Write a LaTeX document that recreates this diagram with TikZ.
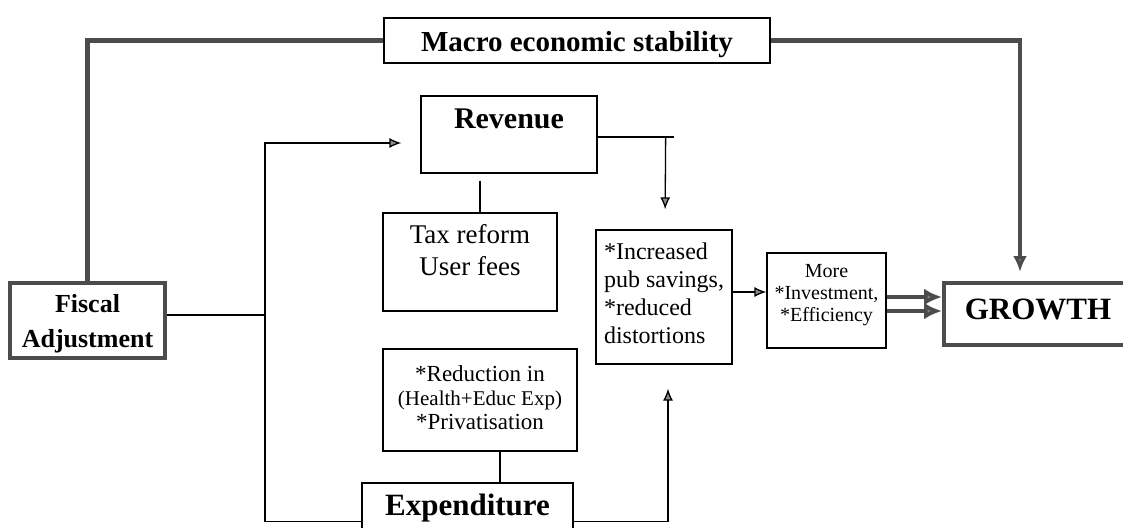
\documentclass[tikz,border=0pt]{standalone}
\usepackage{fontspec}
\setmainfont{Liberation Serif}
\usetikzlibrary{arrows.meta}

\begin{document}
\begin{tikzpicture}[x=1pt,y=-1pt,
    box/.style={draw,line width=1.3pt,inner sep=0pt,align=center},
    heavybox/.style={draw=black!70,line width=4pt,inner sep=0pt,align=center},
    link/.style={line width=1.3pt},
    arr/.style={link,-{Latex[length=12pt,width=10pt,fill=black!45]}},
    bar/.style={draw=black!70,line width=4.5pt},
    fat/.style={draw=black!70,line width=4pt,-{Latex[length=18pt,width=17pt,fill=black!50]}}
]
    \useasboundingbox (0,0) rectangle (1123,527);

    \node[box,minimum width=386pt,text height=34pt,text depth=11pt,
        font=\fontsize{29}{34}\selectfont\bfseries] (macro) at (577,40.5) {Macro economic stability};
    \node[heavybox,minimum width=155pt,text height=64pt,text depth=11pt,
        font=\fontsize{26}{35}\selectfont\bfseries] (fis) at (87.5,320.5) {Fiscal\\Adjustment};
    \node[box,minimum width=176pt,text height=32pt,text depth=45pt,
        font=\fontsize{30}{34}\selectfont\bfseries] (rev) at (509,134.5) {Revenue};
    \node[box,minimum width=174pt,text height=62pt,text depth=36pt,
        font=\fontsize{27}{32}\selectfont] (tax) at (470,262) {Tax reform\\User fees};
    \node[box,minimum width=194pt,text height=80pt,text depth=22pt,
        font=\fontsize{23}{24}\selectfont] (red) at (480,400)
        {*Reduction in\\{\fontsize{21}{24}\selectfont(Health+Educ Exp)}\\{}*Privatisation};
    \node[box,minimum width=211pt,text height=32pt,text depth=45pt,
        font=\fontsize{31}{34}\selectfont\bfseries] (exp) at (467.5,521.5) {Expenditure};
    \node[box,minimum width=136pt,align=left,text height=113pt,text depth=21pt,
        font=\fontsize{24}{28}\selectfont] (sav) at (664,297)
        {*Increased\\pub savings,\\{}*reduced\\distortions};
    \node[box,minimum width=119pt,text height=68pt,text depth=27pt,
        font=\fontsize{20}{22}\selectfont] (more) at (826.5,300.5) {More\\{}*Investment,\\{}*Efficiency};
    \node[heavybox,minimum width=188pt,text height=36pt,text depth=26pt,
        font=\fontsize{31}{34}\selectfont\bfseries] (growth) at (1038,314) {GROWTH};

    \draw[bar] (macro.west) -| (fis.north);
    \draw[bar,-{Latex[length=16pt,width=14pt,fill=black!50]},shorten >=9pt]
        (macro.east) -| ([xshift=-18pt]growth.north);

    \coordinate (split) at (265,315);
    \draw[link] (fis.east |- split) -- (split);
    \draw[arr,shorten >=19pt] (split) |- ([yshift=-8.5pt]rev.west);
    \draw[link] (split) |- (exp.west);

    \draw[link] ([yshift=-2.5pt]rev.east) -- ++(76,0) coordinate (rend);
    \draw[arr,shorten >=20pt] ([xshift=-8pt]rend) -- ([xshift=1pt]sav.north);
    \draw[arr,shorten >=24pt] (exp.east) -| ([xshift=4pt]sav.south);

    \draw[link] ([shift={(-29pt,-7pt)}]rev.south) -- ([xshift=10pt]tax.north);
    \draw[link] ([xshift=20pt]red.south) -- ([xshift=32.5pt]exp.north);

    \draw[arr] ([yshift=5pt]sav.east) -- ([yshift=5pt]sav.east -| more.west);
    \draw[fat] ([yshift=3.5pt]more.east) -- ([yshift=3.5pt]more.east -| growth.west);
    \draw[fat] ([yshift=-10.5pt]more.east) -- ([yshift=-10.5pt]more.east -| growth.west);

\end{tikzpicture}
\end{document}
